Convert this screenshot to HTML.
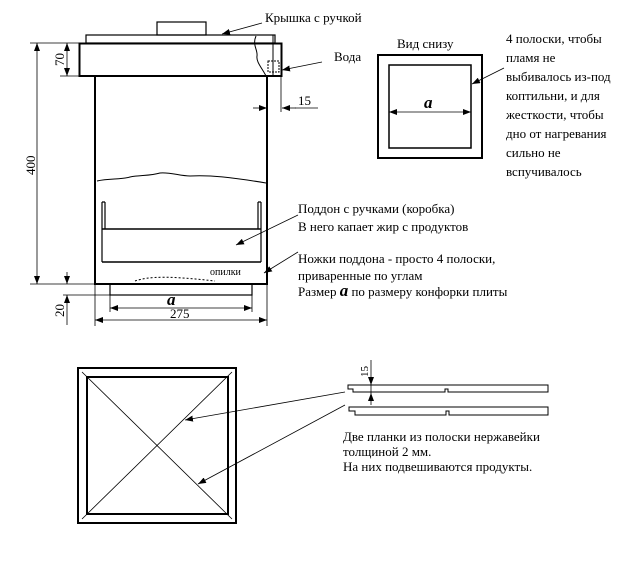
<!DOCTYPE html>
<html><head><meta charset="utf-8"><style>
html,body{margin:0;padding:0;background:#fff}
svg{display:block}
text{font-family:"Liberation Serif","DejaVu Serif",serif;font-size:13px;fill:#000}
</style></head><body>
<svg width="640" height="582" viewBox="0 0 640 582" xmlns="http://www.w3.org/2000/svg">
<defs>
<marker id="ar" markerWidth="8" markerHeight="6" refX="8" refY="3" orient="auto" markerUnits="userSpaceOnUse"><path d="M0,0 L8,3 L0,6 z" fill="#000"/></marker>
</defs>
<g fill="none" stroke="#000">
<rect x="157" y="22" width="49" height="13" stroke-width="1.2"/>
<rect x="86" y="35" width="189" height="8" stroke-width="1.2"/>
<rect x="79.5" y="43.5" width="202" height="32.5" stroke-width="2"/>
<path d="M273,35 V76" stroke-width="1"/>
<path d="M256,36 C252,45 258,50 257,56 C256,62 262,68 266,76" stroke-width="1"/>
<rect x="268" y="61" width="11" height="11" stroke-width="1" stroke-dasharray="2,1"/>
<path d="M95,76 V284 M267,76 V284" stroke-width="2"/>
<path d="M94,284 H268" stroke-width="2"/>
<path d="M97,181 C110,178 120,180 130,177 C140,175 150,176 160,173 C170,172 180,176 190,176 C210,175 230,177 266,183" stroke-width="1"/>
<path d="M102,202 V262 M105,202 V229 M258,202 V229 M261,202 V262 M102,202 H105 M258,202 H261" stroke-width="1.2"/>
<path d="M102,229 H261 M102,262 H261" stroke-width="1.5"/>
<path d="M135,281 C150,276 170,276 215,281" stroke-width="1" stroke-dasharray="2,2"/>
<rect x="110" y="284" width="142" height="11" stroke-width="1.2"/>
<path d="M30,43 H80 M30,284 H95 M60,76 H80 M63,295 H110" stroke-width="0.8"/>
<path d="M37,160 V43" stroke-width="0.8" marker-end="url(#ar)"/>
<path d="M37,160 V284" stroke-width="0.8" marker-end="url(#ar)"/>
<path d="M67,60 V43" stroke-width="0.8" marker-end="url(#ar)"/>
<path d="M67,60 V76" stroke-width="0.8" marker-end="url(#ar)"/>
<path d="M67,272 V284" stroke-width="0.8" marker-end="url(#ar)"/>
<path d="M67,325 V295" stroke-width="0.8" marker-end="url(#ar)"/>
<path d="M95,284 V326 M267,284 V326 M110,295 V312 M252,295 V312" stroke-width="0.8"/>
<path d="M180,308 H110" stroke-width="0.8" marker-end="url(#ar)"/>
<path d="M180,308 H252" stroke-width="0.8" marker-end="url(#ar)"/>
<path d="M180,320 H95" stroke-width="0.8" marker-end="url(#ar)"/>
<path d="M180,320 H267" stroke-width="0.8" marker-end="url(#ar)"/>
<path d="M281,76 V112 M295,108 H318" stroke-width="0.8"/>
<path d="M253,108 H267" stroke-width="0.8" marker-end="url(#ar)"/>
<path d="M296,108 H282" stroke-width="0.8" marker-end="url(#ar)"/>
<path d="M262,23 L222,34" stroke-width="0.8" marker-end="url(#ar)"/>
<path d="M322,62 L282,70" stroke-width="0.8" marker-end="url(#ar)"/>
<path d="M298,215 L236,245" stroke-width="0.8" marker-end="url(#ar)"/>
<path d="M298,252 L264,273" stroke-width="0.8" marker-end="url(#ar)"/>
<rect x="378" y="55" width="104" height="103" stroke-width="2"/>
<rect x="389" y="65" width="82" height="83" stroke-width="1.5"/>
<path d="M430,112 H389" stroke-width="0.8" marker-end="url(#ar)"/>
<path d="M430,112 H471" stroke-width="0.8" marker-end="url(#ar)"/>
<path d="M504,68 L472,84" stroke-width="0.8" marker-end="url(#ar)"/>
<rect x="78" y="368" width="158" height="155" stroke-width="2"/>
<rect x="87" y="377" width="141" height="137" stroke-width="2"/>
<path d="M82,372 L232,519 M232,372 L82,519" stroke-width="0.8"/>
<path d="M345,392 L185,420" stroke-width="0.8" marker-end="url(#ar)"/>
<path d="M345,405 L198,484" stroke-width="0.8" marker-end="url(#ar)"/>
<path d="M348,385 H548 V392 H448 V389 H445 V392 H353 V389 H348 Z" stroke-width="1"/>
<path d="M349,407 H548 V415 H449 V411 H446 V415 H355 V411 H349 Z" stroke-width="1"/>
<path d="M371,360 V385" stroke-width="0.8" marker-end="url(#ar)"/>
<path d="M371,405 V393" stroke-width="0.8" marker-end="url(#ar)"/>
<path d="M371,385 V393" stroke-width="0.8"/>
</g>
<text x="265" y="22">Крышка с ручкой</text>
<text x="334" y="61">Вода</text>
<text x="298" y="105">15</text>
<text x="210" y="275" style="font-size:10px">опилки</text>
<text transform="translate(35,175) rotate(-90)">400</text>
<text transform="translate(64,66) rotate(-90)">70</text>
<text transform="translate(64,317) rotate(-90)">20</text>
<text x="167" y="305" style="font-size:17px;font-weight:bold;font-style:italic">a</text>
<text x="170" y="318">275</text>
<text x="397" y="48">Вид снизу</text>
<text x="424" y="108" style="font-size:17px;font-weight:bold;font-style:italic">a</text>
<text x="506" y="43">4 полоски, чтобы</text>
<text x="506" y="62">пламя не</text>
<text x="506" y="81">выбивалось из-под</text>
<text x="506" y="100">коптильни, и для</text>
<text x="506" y="119">жесткости, чтобы</text>
<text x="506" y="138">дно от нагревания</text>
<text x="506" y="157">сильно не</text>
<text x="506" y="176">вспучивалось</text>
<text x="298" y="213">Поддон с ручками (коробка)</text>
<text x="298" y="231">В него капает жир с продуктов</text>
<text x="298" y="263">Ножки поддона - просто 4 полоски,</text>
<text x="298" y="280">приваренные по углам</text>
<text x="298" y="296">Размер <tspan style="font-size:17px;font-weight:bold;font-style:italic">a</tspan>  по размеру конфорки плиты</text>
<text transform="translate(368,377) rotate(-90)" style="font-size:11px">15</text>
<text x="343" y="441">Две планки из полоски нержавейки</text>
<text x="343" y="456">толщиной 2 мм.</text>
<text x="343" y="471">На них подвешиваются продукты.</text>
</svg>
</body></html>
